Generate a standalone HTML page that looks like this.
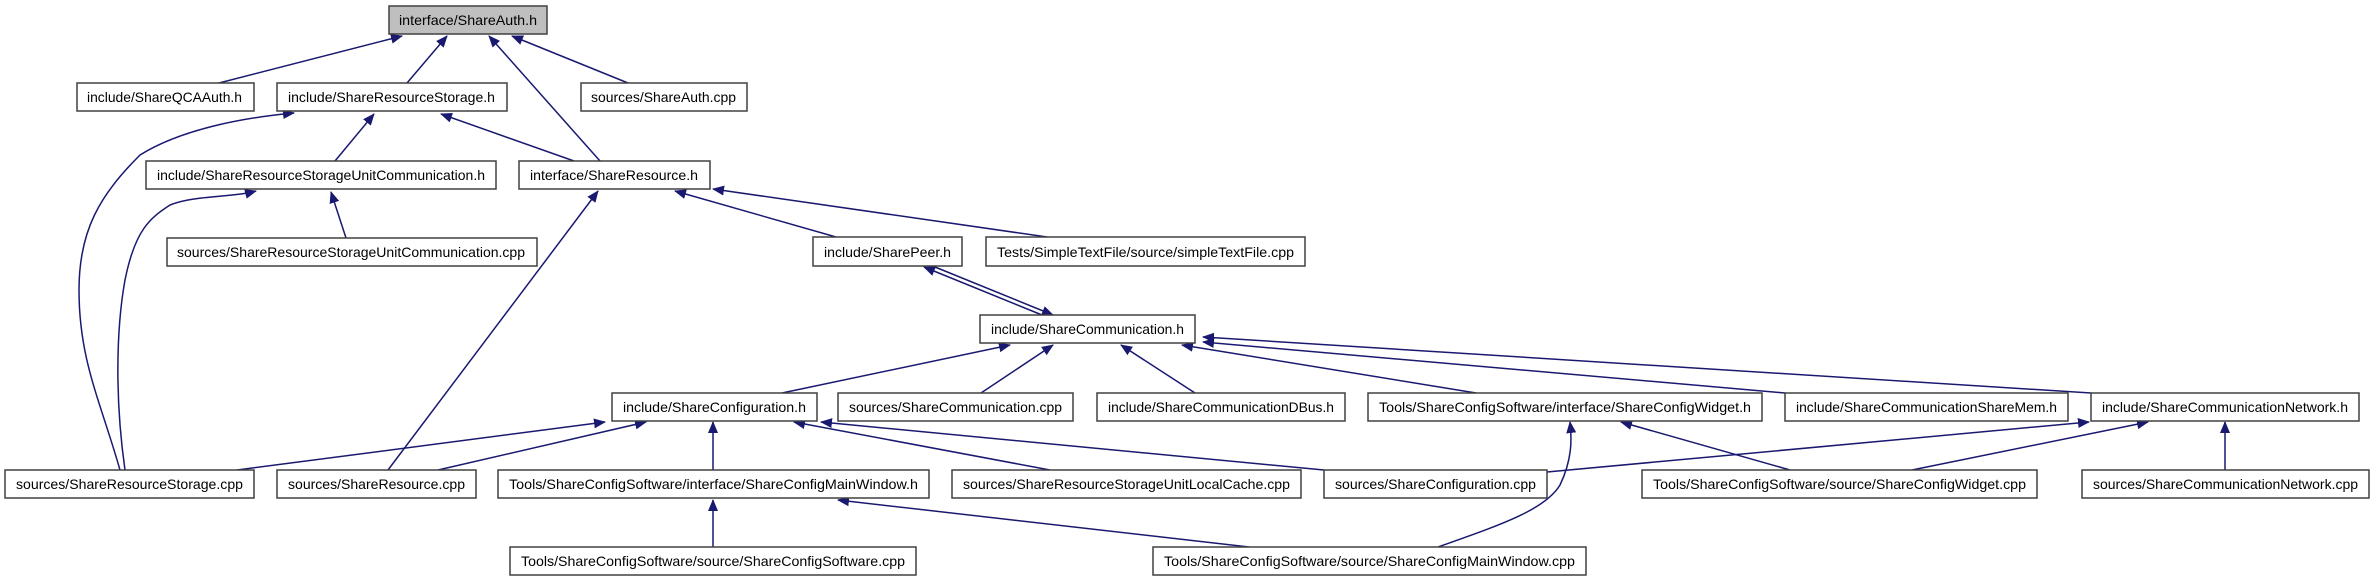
<!DOCTYPE html>
<html><head><meta charset="utf-8"><style>
html,body{margin:0;padding:0;background:#fff;}
svg{display:block;}
text{font-family:"Liberation Sans",sans-serif;font-size:14px;fill:#000;}
.b{fill:#fff;stroke:#404040;stroke-width:1.5;}
.e{fill:none;stroke:#191970;stroke-width:1.5;}
</style></head><body>
<svg width="2373" height="581" viewBox="0 0 2373 581" xmlns="http://www.w3.org/2000/svg">
<defs>
<marker id="a" markerWidth="12" markerHeight="10" refX="11" refY="5" orient="auto" markerUnits="userSpaceOnUse">
<path d="M0,0 L12,5 L0,10 z" fill="#191970"/>
</marker>
</defs>
<g class="e" marker-end="url(#a)">
<path d="M219,83 L402,36"/>
<path d="M407,83 L447,36"/>
<path d="M600,161 L489,36"/>
<path d="M628,83 L512,36"/>
<path d="M335,161 L374,114"/>
<path d="M574,161 L441,114"/>
<path d="M120,470 C100,400 79,360 79,290 C79,230 100,195 140,155 C180,130 240,118 294,113"/>
<path d="M125,470 C115,400 116,330 125,280 C135,230 150,218 170,205 C195,195 230,198 256,191"/>
<path d="M346,238 L331,192"/>
<path d="M388,470 L598,191"/>
<path d="M836,237 L675,191"/>
<path d="M1047,237 L713,189"/>
<path d="M935,267 L1053,315"/>
<path d="M1042,315 L924,267"/>
<path d="M782,393 L1010,345"/>
<path d="M981,393 L1053,345"/>
<path d="M1195,393 L1121,345"/>
<path d="M1476,393 L1182,345"/>
<path d="M1785,393 L1203,342"/>
<path d="M2091,393 L1203,337"/>
<path d="M237,470 L605,422"/>
<path d="M438,470 L646,422"/>
<path d="M713,470 L713,422"/>
<path d="M1050,470 L794,422"/>
<path d="M1324,470 L821,422"/>
<path d="M713,547 L713,500"/>
<path d="M1249,547 L838,500"/>
<path d="M1438,547 C1500,525 1545,510 1560,485 C1572,460 1572,440 1570,422"/>
<path d="M1790,470 L1621,422"/>
<path d="M1547,472 L2089,422"/>
<path d="M1912,470 L2148,422"/>
<path d="M2225,470 L2225,422"/>
</g>
<g>
<rect x="389" y="6" width="158" height="28" fill="#bfbfbf" stroke="#404040" stroke-width="1.5"/>
<text x="399" y="25" textLength="138" lengthAdjust="spacingAndGlyphs">interface/ShareAuth.h</text>

<rect class="b" x="77" y="83" width="177" height="28"/>
<text x="87" y="102" textLength="155" lengthAdjust="spacingAndGlyphs">include/ShareQCAAuth.h</text>
<rect class="b" x="277" y="83" width="230" height="28"/>
<text x="288" y="102" textLength="207" lengthAdjust="spacingAndGlyphs">include/ShareResourceStorage.h</text>
<rect class="b" x="581" y="83" width="166" height="28"/>
<text x="591" y="102" textLength="145" lengthAdjust="spacingAndGlyphs">sources/ShareAuth.cpp</text>

<rect class="b" x="146" y="161" width="350" height="28"/>
<text x="157" y="180" textLength="328" lengthAdjust="spacingAndGlyphs">include/ShareResourceStorageUnitCommunication.h</text>
<rect class="b" x="519" y="161" width="191" height="28"/>
<text x="530" y="180" textLength="168" lengthAdjust="spacingAndGlyphs">interface/ShareResource.h</text>

<rect class="b" x="167" y="238" width="370" height="28"/>
<text x="177" y="257" textLength="348" lengthAdjust="spacingAndGlyphs">sources/ShareResourceStorageUnitCommunication.cpp</text>
<rect class="b" x="813" y="237" width="149" height="29"/>
<text x="824" y="257" textLength="127" lengthAdjust="spacingAndGlyphs">include/SharePeer.h</text>
<rect class="b" x="986" y="237" width="319" height="29"/>
<text x="997" y="257" textLength="297" lengthAdjust="spacingAndGlyphs">Tests/SimpleTextFile/source/simpleTextFile.cpp</text>

<rect class="b" x="980" y="315" width="215" height="28"/>
<text x="991" y="334" textLength="193" lengthAdjust="spacingAndGlyphs">include/ShareCommunication.h</text>

<rect class="b" x="612" y="393" width="205" height="28"/>
<text x="623" y="412" textLength="183" lengthAdjust="spacingAndGlyphs">include/ShareConfiguration.h</text>
<rect class="b" x="838" y="393" width="235" height="28"/>
<text x="849" y="412" textLength="213" lengthAdjust="spacingAndGlyphs">sources/ShareCommunication.cpp</text>
<rect class="b" x="1097" y="393" width="248" height="28"/>
<text x="1108" y="412" textLength="226" lengthAdjust="spacingAndGlyphs">include/ShareCommunicationDBus.h</text>
<rect class="b" x="1368" y="393" width="394" height="28"/>
<text x="1379" y="412" textLength="372" lengthAdjust="spacingAndGlyphs">Tools/ShareConfigSoftware/interface/ShareConfigWidget.h</text>
<rect class="b" x="1785" y="393" width="283" height="28"/>
<text x="1796" y="412" textLength="261" lengthAdjust="spacingAndGlyphs">include/ShareCommunicationShareMem.h</text>
<rect class="b" x="2091" y="393" width="268" height="28"/>
<text x="2102" y="412" textLength="246" lengthAdjust="spacingAndGlyphs">include/ShareCommunicationNetwork.h</text>

<rect class="b" x="5" y="470" width="249" height="28"/>
<text x="16" y="489" textLength="227" lengthAdjust="spacingAndGlyphs">sources/ShareResourceStorage.cpp</text>
<rect class="b" x="277" y="470" width="199" height="28"/>
<text x="288" y="489" textLength="177" lengthAdjust="spacingAndGlyphs">sources/ShareResource.cpp</text>
<rect class="b" x="498" y="470" width="431" height="28"/>
<text x="509" y="489" textLength="409" lengthAdjust="spacingAndGlyphs">Tools/ShareConfigSoftware/interface/ShareConfigMainWindow.h</text>
<rect class="b" x="952" y="470" width="349" height="28"/>
<text x="963" y="489" textLength="327" lengthAdjust="spacingAndGlyphs">sources/ShareResourceStorageUnitLocalCache.cpp</text>
<rect class="b" x="1324" y="470" width="223" height="28"/>
<text x="1335" y="489" textLength="201" lengthAdjust="spacingAndGlyphs">sources/ShareConfiguration.cpp</text>
<rect class="b" x="1642" y="470" width="395" height="28"/>
<text x="1653" y="489" textLength="373" lengthAdjust="spacingAndGlyphs">Tools/ShareConfigSoftware/source/ShareConfigWidget.cpp</text>
<rect class="b" x="2082" y="470" width="287" height="28"/>
<text x="2093" y="489" textLength="265" lengthAdjust="spacingAndGlyphs">sources/ShareCommunicationNetwork.cpp</text>

<rect class="b" x="510" y="547" width="406" height="28"/>
<text x="521" y="566" textLength="384" lengthAdjust="spacingAndGlyphs">Tools/ShareConfigSoftware/source/ShareConfigSoftware.cpp</text>
<rect class="b" x="1153" y="547" width="433" height="28"/>
<text x="1164" y="566" textLength="411" lengthAdjust="spacingAndGlyphs">Tools/ShareConfigSoftware/source/ShareConfigMainWindow.cpp</text>
</g>
</svg>
</body></html>
